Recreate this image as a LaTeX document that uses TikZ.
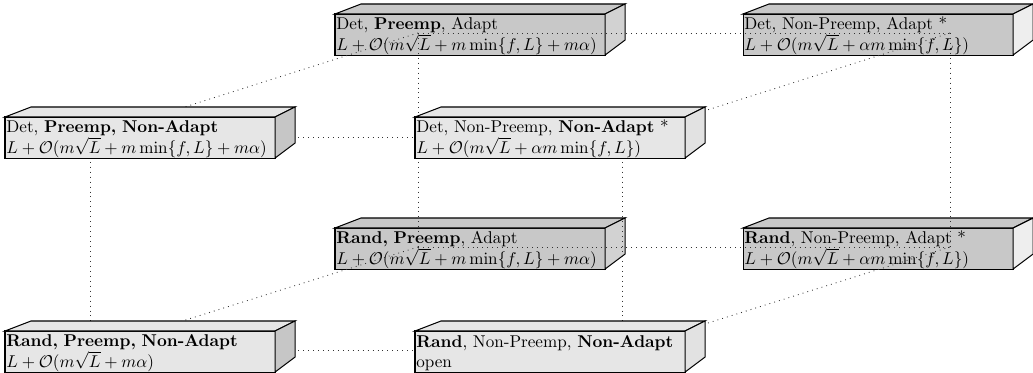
\documentclass[tikz,border=0pt]{standalone}
\usetikzlibrary{calc}
\definecolor{backc}{HTML}{C8C8C8}
\definecolor{frontc}{HTML}{E6E6E6}
\definecolor{sidedark}{HTML}{C6C6C6}
\definecolor{sidemid}{HTML}{D2D2D2}
\definecolor{sidelight}{HTML}{EEEEEE}
\definecolor{sidefl}{HTML}{E2E2E2}
\definecolor{edgec}{HTML}{333333}
\newcommand\drawcuboid[3]{%
  \draw[boxedge,fill=#2] (#1.north west) -- ++(26,-10) -- ($(#1.north east)+(20,-10)$) -- (#1.north east) -- cycle;
  \draw[boxedge,fill=#3] (#1.north east) -- ++(20,-10) -- ($(#1.south east)+(20,-15)$) -- (#1.south east) -- cycle;}
\begin{document}
\begin{tikzpicture}[x=0.585pt,y=-0.585pt,
  boxedge/.style={draw=black, line width=0.6pt, line join=miter},
  face/.style={boxedge, anchor=north west, minimum width=158pt, minimum height=24pt,
    text width=156.4pt, inner xsep=0.8pt, inner ysep=0pt, outer sep=0pt, align=left},
  backface/.style={face, fill=backc},
  frontface/.style={face, fill=frontc},
  cubeedge/.style={draw=edgec, line width=0.5pt, dash pattern=on 0.5pt off 2.4pt}]
\useasboundingbox (0,0) rectangle (1033,373);
% back layer (Adapt)
\node[backface] (dpa) at (335,14) {\rule{0pt}{9pt}Det, \textbf{Preemp}, Adapt\\ $L+\mathcal{O}(m\sqrt{L}+m\min\{f,L\}+m\alpha)$};
\drawcuboid{dpa}{backc}{sidemid}
\node[backface] (dna) at (743,14) {\rule{0pt}{9pt}Det, Non-Preemp, Adapt *\\ $L+\mathcal{O}(m\sqrt{L}+\alpha m\min\{f,L\})$};
\drawcuboid{dna}{backc}{sidelight}
\node[backface] (rpa) at (335,228) {\rule{0pt}{9pt}\textbf{Rand, Preemp}, Adapt\\ $L+\mathcal{O}(m\sqrt{L}+m\min\{f,L\}+m\alpha)$};
\drawcuboid{rpa}{backc}{sidemid}
\node[backface] (rna) at (743,228) {\rule{0pt}{9pt}\textbf{Rand}, Non-Preemp, Adapt *\\ $L+\mathcal{O}(m\sqrt{L}+\alpha m\min\{f,L\})$};
\drawcuboid{rna}{backc}{sidelight}
% cube vertices
\coordinate (vdpa) at (418,33);
\coordinate (vdna) at (950,33);
\coordinate (vrpa) at (418,247);
\coordinate (vrna) at (950,247);
\coordinate (vdpn) at (90,137);
\coordinate (vdnn) at (622,137);
\coordinate (vrpn) at (90,350);
\coordinate (vrnn) at (622,350);
% cube edges
\draw[cubeedge] (vdpa) -- (vdna);
\draw[cubeedge] (vdpa) -- (vrpa);
\draw[cubeedge] (vdpa) -- (vdpn);
\draw[cubeedge] (vdna) -- (vrna);
\draw[cubeedge] (vdna) -- (vdnn);
\draw[cubeedge] (vrpa) -- (vrna);
\draw[cubeedge] (vrpa) -- (vrpn);
\draw[cubeedge] (vrna) -- (vrnn);
\draw[cubeedge] (vdpn) -- (vdnn);
\draw[cubeedge] (vdpn) -- (vrpn);
\draw[cubeedge] (vdnn) -- (vrnn);
\draw[cubeedge] (vrpn) -- (vrnn);
% front layer (Non-Adapt)
\node[frontface] (dpn) at (5,117) {\rule{0pt}{9pt}Det, \textbf{Preemp, Non-Adapt}\\ $L+\mathcal{O}(m\sqrt{L}+m\min\{f,L\}+m\alpha)$};
\drawcuboid{dpn}{frontc}{sidedark}
\node[frontface] (dnn) at (415,117) {\rule{0pt}{9pt}Det, Non-Preemp, \textbf{Non-Adapt} *\\ $L+\mathcal{O}(m\sqrt{L}+\alpha m\min\{f,L\})$};
\drawcuboid{dnn}{frontc}{sidefl}
\node[frontface] (rpn) at (5,331) {\rule{0pt}{9pt}\textbf{Rand, Preemp, Non-Adapt}\\ $L+\mathcal{O}(m\sqrt{L}+m\alpha)$};
\drawcuboid{rpn}{frontc}{sidedark}
\node[frontface] (rnn) at (415,331) {\rule{0pt}{9pt}\textbf{Rand}, Non-Preemp, \textbf{Non-Adapt}\\ open};
\drawcuboid{rnn}{frontc}{sidefl}
\end{tikzpicture}
\end{document}
